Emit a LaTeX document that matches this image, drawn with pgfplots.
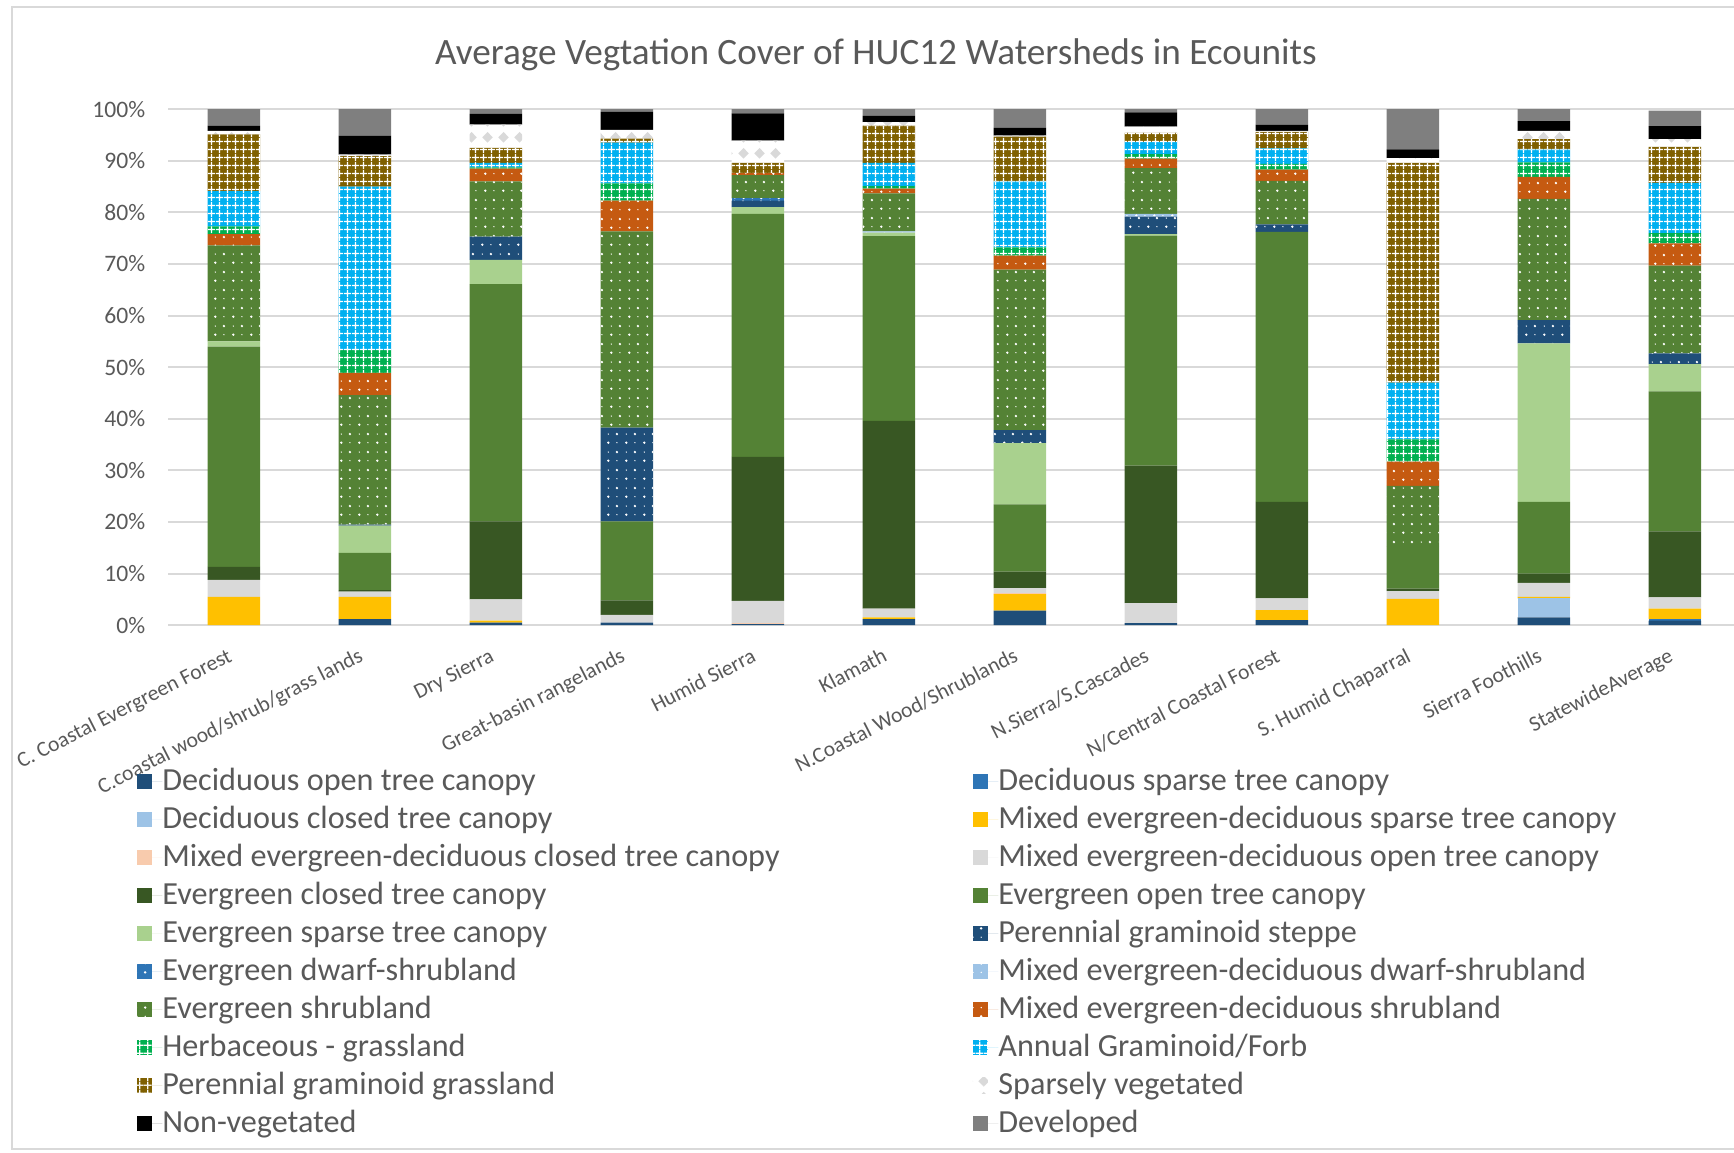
\documentclass[border=0pt]{standalone}
\usepackage{fontspec}
\setmainfont{Carlito}
\usepackage{pgfplots}
\usepackage{pgfplotstable}
\pgfplotsset{compat=1.18}
\usetikzlibrary{patterns,calc}

\definecolor{cDO}{HTML}{1F4E79}
\definecolor{cDS}{HTML}{2E75B6}
\definecolor{cDC}{HTML}{9DC3E6}
\definecolor{cMS}{HTML}{FFC000}
\definecolor{cMC}{HTML}{F8CBAD}
\definecolor{cMO}{HTML}{D9D9D9}
\definecolor{cEC}{HTML}{385723}
\definecolor{cEO}{HTML}{548235}
\definecolor{cES}{HTML}{A9D18E}
\definecolor{cMSH}{HTML}{C55A11}
\definecolor{cHG}{HTML}{00B050}
\definecolor{cAGF}{HTML}{00B0F0}
\definecolor{cPGG}{HTML}{7F6000}
\definecolor{cSV}{HTML}{D9D9D9}
\definecolor{cDEV}{HTML}{7F7F7F}
\definecolor{txt}{HTML}{595959}
\definecolor{grd}{HTML}{D9D9D9}

\pgfdeclarepatternformonly{exdots}{\pgfqpoint{0pt}{0pt}}{\pgfqpoint{4.4pt}{4.4pt}}{\pgfqpoint{4.4pt}{4.4pt}}{%
  \pgfpathcircle{\pgfqpoint{1.1pt}{1.1pt}}{0.34pt}%
  \pgfpathcircle{\pgfqpoint{3.3pt}{3.3pt}}{0.34pt}%
  \pgfpathcircle{\pgfqpoint{1.1pt}{3.3pt}}{0.18pt}%
  \pgfpathcircle{\pgfqpoint{3.3pt}{1.1pt}}{0.18pt}%
  \pgfusepath{fill}}
\pgfdeclarepatternformonly{weave}{\pgfqpoint{0pt}{0pt}}{\pgfqpoint{2pt}{2pt}}{\pgfqpoint{2pt}{2pt}}{%
  \pgfsetlinewidth{0.35pt}%
  \pgfpathmoveto{\pgfqpoint{0pt}{1pt}}\pgfpathlineto{\pgfqpoint{2pt}{1pt}}%
  \pgfpathmoveto{\pgfqpoint{1pt}{0pt}}\pgfpathlineto{\pgfqpoint{1pt}{2pt}}%
  \pgfusepath{stroke}}
\pgfdeclarepatternformonly{diam}{\pgfqpoint{0pt}{0pt}}{\pgfqpoint{4pt}{4pt}}{\pgfqpoint{4pt}{4pt}}{%
  \pgfpathmoveto{\pgfqpoint{2pt}{0.6pt}}\pgfpathlineto{\pgfqpoint{3.4pt}{2pt}}%
  \pgfpathlineto{\pgfqpoint{2pt}{3.4pt}}\pgfpathlineto{\pgfqpoint{0.6pt}{2pt}}\pgfpathclose
  \pgfusepath{fill}}

\pgfplotsset{
  sq/.style={legend image code/.code={%
      \path[##1,draw=none] (0pt,-1.9pt) rectangle (3.75pt,1.9pt);
      \path (0pt,0pt) -- (6.4pt,0pt);}},
  sol/.style={sq, draw=none, fill=#1},
  dott/.style={sq, draw=none, fill=#1, postaction={pattern=exdots, pattern color=white}},
  woven/.style={sq, draw=none, fill=#1, postaction={pattern=weave, pattern color=white}},
}
\newcommand{\LL}[1]{\makebox[202.6pt][l]{#1}}

\pgfplotstableread{
x DO DS DC MS MC MO EC EO ES PGS EDS MDS ESH MSH HG AGF PGG SV NV DEV
0 0 0 0 5.5 0 3.3 2.5 42.7 1.0 0 0 0 18.6 2.2 1.5 6.8 11.0 0.7 1.0 3.2
1 1.2 0 0 4.3 0 1.0 0.3 7.2 5.3 0.2 0 0 25.1 4.3 4.4 31.7 5.9 0.3 3.7 5.1
2 0.5 0 0 0.4 0 4.1 15.1 46.0 4.7 4.5 0 0 10.7 2.5 0.2 0.9 2.9 4.5 2.1 0.9
3 0.5 0 0 0 0 1.5 2.8 15.3 0 18.2 0 0 38.0 6.0 3.3 7.9 0.8 1.7 3.5 0.5
4 0.2 0 0 0 0.2 4.3 27.9 47.1 1.3 1.3 0.4 0 4.5 0.4 0 0 2.0 4.3 5.3 0.8
5 1.2 0 0 0.3 0 1.7 36.4 35.8 0.7 0 0 0.2 7.4 0.9 0.5 4.5 7.2 0.7 1.2 1.3
6 2.8 0 0 3.2 0.2 1.0 3.2 13.0 11.9 2.5 0 0 31.1 2.7 1.6 12.8 8.7 0.2 1.5 3.6
7 0.4 0 0 0 0 3.9 26.6 44.6 0.3 3.4 0 0.5 8.9 1.8 0.9 2.3 1.8 1.2 2.8 0.8
8 1.0 0 0 1.9 0 2.3 18.7 52.3 0 1.5 0 0 8.4 2.2 1.1 3.0 3.2 0.2 1.2 3.0
9 0 0 0 5.1 0 1.5 0.5 8.2 0 0 0 0 11.7 4.7 4.3 11.0 42.6 0.9 1.7 7.8
10 1.5 0 3.7 0.3 0 2.7 1.8 13.9 30.7 4.5 0 0 23.5 4.3 2.8 2.5 2.0 1.6 1.9 2.3
11 0.9 0.3 0 2.0 0 2.2 12.8 27.1 5.3 2.1 0 0 17.0 4.3 2.0 9.7 7.0 1.5 2.5 3.0
}\datatable

\begin{document}
\begin{tikzpicture}
\begin{axis}[
  width=393pt, height=129pt, scale only axis,
  ybar stacked, bar width=13.15pt,
  xmin=-0.5, xmax=11.5, ymin=0, ymax=100,
  enlargelimits=false,
  axis line style={draw=none},
  major tick length=0pt,
  ymajorgrids, grid style={grd, line width=0.5pt},
  ytick={0,10,...,100},
  yticklabel={\pgfmathprintnumber[assume math mode=true]{\tick}\%},
  yticklabel style={font=\fontsize{5.9}{7}\selectfont, text=txt, inner sep=0pt, xshift=-5.6pt},
  xtick={0,...,11},
  xticklabels={C. Coastal Evergreen Forest, C.coastal wood/shrub/grass lands, Dry Sierra, Great-basin rangelands, Humid Sierra, Klamath, N.Coastal Wood/Shrublands, N.Sierra/S.Cascades, N/Central Coastal Forest, S. Humid Chaparral, Sierra Foothills, StatewideAverage},
  xticklabel style={font=\fontsize{5.4}{6.5}\selectfont, text=txt, rotate=27, anchor=north east, inner sep=0pt, xshift=-4pt, yshift=-3.9pt},
  title={Average Vegtation Cover of HUC12 Watersheds in Ecounits},
  title style={font=\fontsize{9.3}{11}\selectfont, text=txt, at={(rel axis cs:0.45,1)}, anchor=center, yshift=7.6pt},
  legend columns=2,
  legend cell align=left,
  legend style={at={(rel axis cs:0,0)}, anchor=north west, xshift=-7.9pt, yshift=-35.15pt,
    draw=none, fill=none, inner sep=0pt, outer sep=0pt, column sep=0pt, row sep=1.49pt,
    font=\fontsize{8.05}{10}\selectfont, text=txt,
    nodes={inner sep=0pt, text height=6.2pt, text depth=1.8pt}},
]
\addplot[sol=cDO] table[x=x,y=DO]{\datatable};
\addlegendentry{\LL{Deciduous open tree canopy}}
\addplot[sol=cDS] table[x=x,y=DS]{\datatable};
\addlegendentry{Deciduous sparse tree canopy}
\addplot[sol=cDC] table[x=x,y=DC]{\datatable};
\addlegendentry{\LL{Deciduous closed tree canopy}}
\addplot[sol=cMS] table[x=x,y=MS]{\datatable};
\addlegendentry{Mixed evergreen-deciduous sparse tree canopy}
\addplot[sol=cMC] table[x=x,y=MC]{\datatable};
\addlegendentry{\LL{Mixed evergreen-deciduous closed tree canopy}}
\addplot[sol=cMO] table[x=x,y=MO]{\datatable};
\addlegendentry{Mixed evergreen-deciduous open tree canopy}
\addplot[sol=cEC] table[x=x,y=EC]{\datatable};
\addlegendentry{\LL{Evergreen closed tree canopy}}
\addplot[sol=cEO] table[x=x,y=EO]{\datatable};
\addlegendentry{Evergreen open tree canopy}
\addplot[sol=cES] table[x=x,y=ES]{\datatable};
\addlegendentry{\LL{Evergreen sparse tree canopy}}
\addplot[dott=cDO] table[x=x,y=PGS]{\datatable};
\addlegendentry{Perennial graminoid steppe}
\addplot[dott=cDS] table[x=x,y=EDS]{\datatable};
\addlegendentry{\LL{Evergreen dwarf-shrubland}}
\addplot[dott=cDC] table[x=x,y=MDS]{\datatable};
\addlegendentry{Mixed evergreen-deciduous dwarf-shrubland}
\addplot[dott=cEO] table[x=x,y=ESH]{\datatable};
\addlegendentry{\LL{Evergreen shrubland}}
\addplot[dott=cMSH] table[x=x,y=MSH]{\datatable};
\addlegendentry{Mixed evergreen-deciduous shrubland}
\addplot[woven=cHG] table[x=x,y=HG]{\datatable};
\addlegendentry{\LL{Herbaceous - grassland}}
\addplot[woven=cAGF] table[x=x,y=AGF]{\datatable};
\addlegendentry{Annual Graminoid/Forb}
\addplot[woven=cPGG] table[x=x,y=PGG]{\datatable};
\addlegendentry{\LL{Perennial graminoid grassland}}
\addplot[sq, draw=none, fill=white, postaction={pattern=diam, pattern color=cSV}] table[x=x,y=SV]{\datatable};
\addlegendentry{Sparsely vegetated}
\addplot[sol=black] table[x=x,y=NV]{\datatable};
\addlegendentry{\LL{Non-vegetated}}
\addplot[sol=cDEV] table[x=x,y=DEV]{\datatable};
\addlegendentry{Developed}
\coordinate (BL) at (rel axis cs:0,0);
\coordinate (TR) at (rel axis cs:1,1);
\end{axis}
\draw[grd, line width=0.5pt] ($(BL)+(-39.2pt,-131pt)$) rectangle ($(TR)+(10pt,25.65pt)$);
\pgfresetboundingbox
\path ($(BL)+(-42.1pt,-131.9pt)$) rectangle ($(TR)+(-1.6pt,27.3pt)$);
\end{tikzpicture}
\end{document}
